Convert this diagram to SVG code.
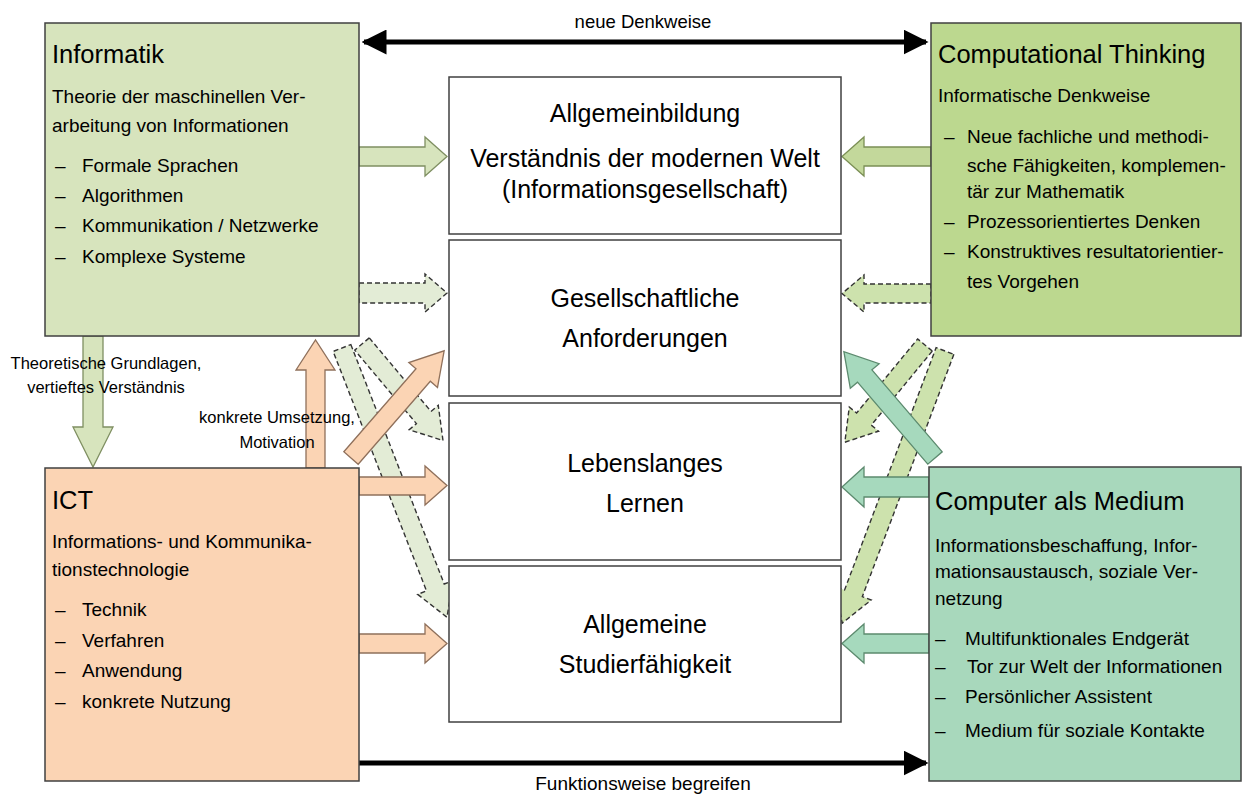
<svg xmlns="http://www.w3.org/2000/svg" width="1242" height="794" viewBox="0 0 1242 794">
<style>
text{font-family:"Liberation Sans",Arial,sans-serif;fill:#000}
.t{font-size:25.5px}
.b{font-size:19px}
.c{font-size:25px;text-anchor:middle}
.l{font-size:16.5px;text-anchor:middle}
.box{stroke:#404040;stroke-width:1.5}
.mid{fill:#fff;stroke:#404040;stroke-width:1.5}
.ag{fill:#d7e4bd;stroke:#7f8f62;stroke-width:1.3}
.ap{fill:#fbd4b4;stroke:#8f705b;stroke-width:1.3}
.at{fill:#a6d9bd;stroke:#5c8a6e;stroke-width:1.3}
.ac{fill:#c3d89b;stroke:#7b8f55;stroke-width:1.3}
.dl{fill:#e3ecd6;stroke:#333;stroke-width:1.4;stroke-dasharray:5 3}
.dr{fill:#cde2ad;stroke:#333;stroke-width:1.4;stroke-dasharray:5 3}
.bl{stroke:#000;stroke-width:5;fill:none}
</style>
<defs>
<marker id="ah" viewBox="0 0 10 10" refX="9" refY="5" markerWidth="5" markerHeight="5" orient="auto-start-reverse" markerUnits="strokeWidth">
<path d="M0,0 L10,5 L0,10 Z" fill="#000"/>
</marker>
</defs>

<g id="connectors">
<!-- dashed diagonal arrows (behind) -->
<path class="dl" transform="translate(342,348) rotate(68.7)" d="M0,-9.5 H257 V-19 L289,0 L257,19 V9.5 H0 Z"/>
<path class="dl" transform="translate(362,344) rotate(50)" d="M0,-9.5 H96 V-19 L126,0 L96,19 V9.5 H0 Z"/>
<path class="dr" transform="translate(945,351) rotate(110.7)" d="M0,-9.5 H259 V-19 L291,0 L259,19 V9.5 H0 Z"/>
<path class="dr" transform="translate(925,345) rotate(129.5)" d="M0,-9.5 H96 V-19 L126,0 L96,19 V9.5 H0 Z"/>
<!-- dashed horizontal -->
<path class="dl" d="M359,283 H425 V274 L447,293 L425,312 V303 H359 Z"/>
<path class="dr" d="M931,284 H864 V275 L842,293.5 L864,312 V303 H931 Z"/>
<!-- solid horizontal -->
<path class="ag" d="M359,147 H425 V137 L447,156.5 L425,176 V166 H359 Z"/>
<path class="ac" d="M931,147 H864 V137 L842,156.5 L864,176 V166 H931 Z"/>
<path class="ap" d="M359,477 H425 V466 L447,485.5 L425,505 V495 H359 Z"/>
<path class="ap" d="M359,634 H425 V624 L447,643.5 L425,663 V653 H359 Z"/>
<path class="at" d="M929,477 H864 V467 L842,487 L864,507 V497 H929 Z"/>
<path class="at" d="M929,634 H864 V624 L842,643.5 L864,663 V653 H929 Z"/>
<!-- solid diagonal -->
<path class="ap" transform="translate(351,458) rotate(-49)" d="M0,-9.5 H110 V-19 L142,0 L110,19 V9.5 H0 Z"/>
<path class="at" transform="translate(935,458) rotate(-130.6)" d="M0,-9.5 H108 V-19 L140,0 L108,19 V9.5 H0 Z"/>
<!-- vertical -->
<path class="ag" d="M83,336 V427 H73 L93,467 L113,427 H103 V336 Z"/>
<path class="ap" d="M306,468 V370 H296 L315.5,340 L335,370 H325 V468 Z"/>
<!-- black arrows -->
<line class="bl" x1="364" y1="42" x2="926" y2="42" marker-start="url(#ah)" marker-end="url(#ah)"/>
<line class="bl" x1="359" y1="763" x2="926" y2="763" marker-end="url(#ah)"/>
<text class="l" x="643" y="28" style="font-size:18.5px">neue Denkweise</text>
<text class="l" x="643" y="790" style="font-size:19px">Funktionsweise begreifen</text>
<text class="l" x="106" y="369">Theoretische Grundlagen,</text>
<text class="l" x="106" y="393">vertieftes Verständnis</text>
<text class="l" x="277" y="423">konkrete Umsetzung,</text>
<text class="l" x="277" y="448">Motivation</text>
</g>

<g id="informatik">
<rect class="box" x="45" y="23" width="314" height="313" fill="#d7e4bd"/>
<text class="t" x="52" y="63">Informatik</text>
<text class="b" x="52" y="103">Theorie der maschinellen Ver-</text>
<text class="b" x="52" y="132">arbeitung von Informationen</text>
<text class="b" x="55" y="172">–</text><text class="b" x="82" y="172">Formale Sprachen</text>
<text class="b" x="55" y="202">–</text><text class="b" x="82" y="202">Algorithmen</text>
<text class="b" x="55" y="232">–</text><text class="b" x="82" y="232">Kommunikation / Netzwerke</text>
<text class="b" x="55" y="263">–</text><text class="b" x="82" y="263">Komplexe Systeme</text>
</g>

<g id="ct">
<rect class="box" x="931" y="23" width="310" height="313" fill="#bcd88f"/>
<text class="t" x="938" y="63">Computational Thinking</text>
<text class="b" x="938" y="102">Informatische Denkweise</text>
<text class="b" x="944" y="143">–</text><text class="b" x="967" y="143">Neue fachliche und methodi-</text>
<text class="b" x="967" y="172">sche Fähigkeiten, komplemen-</text>
<text class="b" x="967" y="198">tär zur Mathematik</text>
<text class="b" x="944" y="228">–</text><text class="b" x="967" y="228">Prozessorientiertes Denken</text>
<text class="b" x="944" y="258">–</text><text class="b" x="967" y="258">Konstruktives resultatorientier-</text>
<text class="b" x="967" y="288">tes Vorgehen</text>
</g>

<g id="ict">
<rect class="box" x="45" y="468" width="314" height="313" fill="#fbd4b4"/>
<text class="t" x="52" y="509">ICT</text>
<text class="b" x="52" y="548">Informations- und Kommunika-</text>
<text class="b" x="52" y="576">tionstechnologie</text>
<text class="b" x="55" y="616">–</text><text class="b" x="82" y="616">Technik</text>
<text class="b" x="55" y="647">–</text><text class="b" x="82" y="647">Verfahren</text>
<text class="b" x="55" y="677">–</text><text class="b" x="82" y="677">Anwendung</text>
<text class="b" x="55" y="708">–</text><text class="b" x="82" y="708">konkrete Nutzung</text>
</g>

<g id="cam">
<rect class="box" x="929" y="467" width="312" height="314" fill="#a8d8bc"/>
<text class="t" x="935" y="510">Computer als Medium</text>
<text class="b" x="935" y="552">Informationsbeschaffung, Infor-</text>
<text class="b" x="935" y="578">mationsaustausch, soziale Ver-</text>
<text class="b" x="935" y="605">netzung</text>
<text class="b" x="935" y="645">–</text><text class="b" x="965" y="645">Multifunktionales Endgerät</text>
<text class="b" x="935" y="673">–</text><text class="b" x="967" y="673">Tor zur Welt der Informationen</text>
<text class="b" x="935" y="703">–</text><text class="b" x="965" y="703">Persönlicher Assistent</text>
<text class="b" x="935" y="737">–</text><text class="b" x="965" y="737">Medium für soziale Kontakte</text>
</g>

<g id="allgemeinbildung">
<rect class="mid" x="449" y="77" width="392" height="157"/>
<text class="c" x="645" y="122">Allgemeinbildung</text>
<text class="c" x="645" y="167">Verständnis der modernen Welt</text>
<text class="c" x="645" y="198">(Informationsgesellschaft)</text>
</g>

<g id="gesellschaft">
<rect class="mid" x="449" y="240" width="392" height="156"/>
<text class="c" x="645" y="307">Gesellschaftliche</text>
<text class="c" x="645" y="347">Anforderungen</text>
</g>

<g id="lernen">
<rect class="mid" x="449" y="403" width="392" height="157"/>
<text class="c" x="645" y="472">Lebenslanges</text>
<text class="c" x="645" y="512">Lernen</text>
</g>

<g id="studium">
<rect class="mid" x="449" y="566" width="392" height="156"/>
<text class="c" x="645" y="633">Allgemeine</text>
<text class="c" x="645" y="673">Studierfähigkeit</text>
</g>
</svg>
